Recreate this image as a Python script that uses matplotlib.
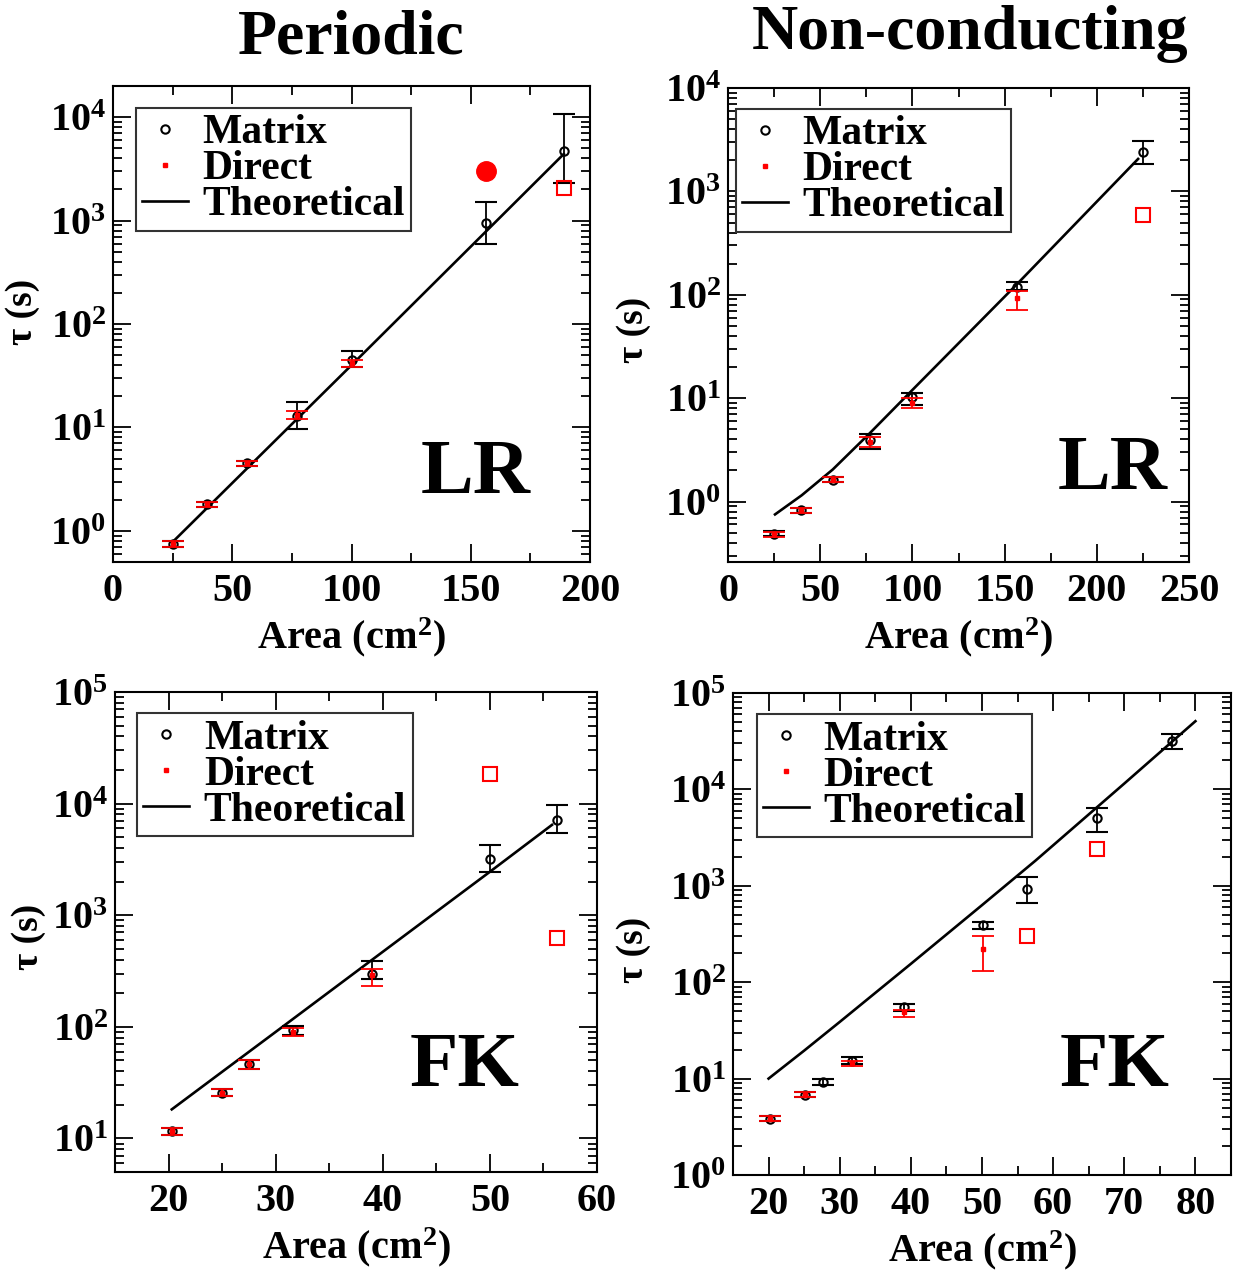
import matplotlib
matplotlib.use("Agg")
import matplotlib.pyplot as plt
from matplotlib.lines import Line2D
from matplotlib.ticker import FuncFormatter, LogLocator, MultipleLocator, NullFormatter
import numpy as np

plt.rcParams['font.family'] = ['Liberation Serif', 'DejaVu Serif']
plt.rcParams['font.weight'] = 'bold'
plt.rcParams['mathtext.fontset'] = 'custom'
plt.rcParams['mathtext.rm'] = 'Liberation Serif:bold'
plt.rcParams['mathtext.bf'] = 'Liberation Serif:bold'
plt.rcParams['mathtext.it'] = 'Liberation Serif:bold:italic'

# ---------------- Panel 1: Periodic, LR ----------------
p1_x = [25, 39.4, 56.2, 77, 100, 156.4, 189]
p1_matrix = [0.75, 1.82, 4.5, 13, 45, 940, 4700]
p1_matrix_lo = [0.70, 1.72, 4.25, 9.7, 38, 600, 2300]
p1_matrix_hi = [0.80, 1.92, 4.75, 17.6, 55, 1500, 10700]
p1_direct_x = [25, 39.4, 56.2, 77, 100]
p1_direct = [0.75, 1.82, 4.5, 13.2, 42]
p1_direct_lo = [0.70, 1.72, 4.25, 12, 38]
p1_direct_hi = [0.80, 1.92, 4.75, 14.4, 45]
p1_circle_x = [156.4]
p1_circle_y = [3000]
p1_square_x = [189]
p1_square_y = [2050]
p1_theory_x = [25, 50, 100, 150, 189]
p1_theory_y = [0.78, 2.9, 40, 560, 4400]

# ---------------- Panel 2: Non-conducting, LR ----------------
p2_x = [25, 39.4, 56.8, 77, 100, 156.6, 225]
p2_matrix = [0.49, 0.82, 1.63, 3.9, 10.2, 118, 2430]
p2_matrix_lo = [0.46, 0.77, 1.53, 3.2, 8.6, 110, 1860]
p2_matrix_hi = [0.52, 0.87, 1.73, 4.5, 11.3, 132, 3100]
p2_direct_x = [25, 39.4, 56.8, 77, 100, 156.6]
p2_direct = [0.48, 0.82, 1.63, 3.8, 9.0, 93]
p2_direct_lo = [0.45, 0.77, 1.53, 3.4, 8.1, 72]
p2_direct_hi = [0.51, 0.87, 1.73, 4.2, 10, 108]
p2_square_x = [225]
p2_square_y = [590]
p2_theory_x = [25.5, 40, 56.8, 77, 100, 156.6, 222.4]
p2_theory_y = [0.75, 1.15, 2.04, 4.6, 12.0, 126, 2060]

# ---------------- Panel 3: Periodic, FK ----------------
p3_x = [20.3, 25, 27.5, 31.6, 39, 50, 56.3]
p3_matrix = [11.6, 25.6, 46, 93, 300, 3170, 7100]
p3_matrix_lo = [10.8, 23.8, 42, 85, 270, 2450, 5500]
p3_matrix_hi = [12.4, 27.5, 50, 101, 390, 4250, 9800]
p3_direct_x = [20.3, 25, 27.5, 31.6, 39]
p3_direct = [11.6, 25.6, 46, 90, 290]
p3_direct_lo = [10.8, 23.8, 42, 83, 230]
p3_direct_hi = [12.4, 27.5, 50, 98, 330]
p3_square_x = [50, 56.3]
p3_square_y = [18600, 630]
p3_theory_x = [20.3, 25, 30, 40, 50, 55.8]
p3_theory_y = [18.2, 39.5, 90, 470, 2450, 6450]

# ---------------- Panel 4: Non-conducting, FK ----------------
p4_x = [20.2, 25.1, 27.6, 31.7, 39.1, 50.1, 56.3, 66.2, 76.7]
p4_matrix = [3.85, 6.8, 9.3, 15.4, 55, 390, 930, 5000, 31500]
p4_matrix_lo = [3.6, 6.4, 8.6, 14.2, 50, 360, 660, 3600, 26000]
p4_matrix_hi = [4.1, 7.2, 10.0, 16.6, 60, 420, 1230, 6400, 38000]
p4_direct_x = [20.2, 25.1, 31.7, 39.1, 50.1]
p4_direct = [3.85, 6.8, 14.5, 49, 220]
p4_direct_lo = [3.6, 6.4, 13.6, 44, 132]
p4_direct_hi = [4.1, 7.2, 15.4, 52, 300]
p4_square_x = [56.3, 66.2]
p4_square_y = [300, 2400]
p4_theory_x = [20, 25, 30, 40, 50, 57.5, 60, 70, 80]
p4_theory_y = [10, 19.5, 38.7, 155, 630, 1820, 2630, 11500, 51000]

titles = ["Periodic", "Non-conducting"]
panel_labels = ["LR", "LR", "FK", "FK"]
legend_labels = ["Matrix", "Direct", "Theoretical"]

W, H = 1256, 1276
fig = plt.figure(figsize=(W / 100, H / 100), dpi=100)


def rect(l, t, r, b):
    return [l / W, 1 - b / H, (r - l) / W, (b - t) / H]


axes_px = [(113, 86, 590, 562), (728, 88, 1189, 562),
           (115, 692, 597, 1172), (733, 693, 1231, 1175)]
xlims = [(0, 200), (0, 250), (15, 60), (15, 85)]
ylims = [(0.5, 2.0e4), (0.26, 1.0e4), (5, 1.0e5), (1, 1.0e5)]
xmaj = [50, 50, 10, 10]
xmin = [25, 25, 5, 5]
leg_anchor = [(0.048, 0.954), (0.017, 0.956), (0.046, 0.956), (0.048, 0.956)]
lab_pos = [(0.76, 0.183), (0.835, 0.194), (0.726, 0.217), (0.767, 0.222)]
ylab_x = [-0.152, -0.168, -0.144, -0.164]
ylab_y = [0.525, 0.49, 0.49, 0.467]

data = [
    (p1_x, p1_matrix, p1_matrix_lo, p1_matrix_hi, p1_direct_x, p1_direct, p1_direct_lo, p1_direct_hi,
     p1_square_x, p1_square_y, p1_theory_x, p1_theory_y),
    (p2_x, p2_matrix, p2_matrix_lo, p2_matrix_hi, p2_direct_x, p2_direct, p2_direct_lo, p2_direct_hi,
     p2_square_x, p2_square_y, p2_theory_x, p2_theory_y),
    (p3_x, p3_matrix, p3_matrix_lo, p3_matrix_hi, p3_direct_x, p3_direct, p3_direct_lo, p3_direct_hi,
     p3_square_x, p3_square_y, p3_theory_x, p3_theory_y),
    (p4_x, p4_matrix, p4_matrix_lo, p4_matrix_hi, p4_direct_x, p4_direct, p4_direct_lo, p4_direct_hi,
     p4_square_x, p4_square_y, p4_theory_x, p4_theory_y),
]

fmt = FuncFormatter(lambda v, p: r'$10^{%d}$' % int(round(np.log10(v))) if v > 0 else '')

for i, (ax_px, d) in enumerate(zip(axes_px, data)):
    (mx, my, mlo, mhi, dx, dy, dlo, dhi, sx, sy, tx, ty) = d
    ax = fig.add_axes(rect(*ax_px))
    ax.set_yscale('log')
    ax.set_xlim(*xlims[i])
    ax.set_ylim(*ylims[i])

    ax.plot(tx, ty, color='black', lw=1.9, zorder=3)

    my_a = np.array(my)
    merr = [my_a - np.array(mlo), np.array(mhi) - my_a]
    ax.errorbar(mx, my, yerr=merr, fmt='o', mfc='none', mec='black', mew=1.5, ms=6,
                ecolor='black', elinewidth=1.3, capsize=8, capthick=1.3, zorder=4)
    dy_a = np.array(dy)
    derr = [dy_a - np.array(dlo), np.array(dhi) - dy_a]
    ax.errorbar(dx, dy, yerr=derr, fmt='s', mfc='red', mec='red', ms=3.5,
                ecolor='red', elinewidth=1.3, capsize=8, capthick=1.3, zorder=5)
    ax.plot(sx, sy, 's', mfc='none', mec='red', mew=1.5, ms=10, zorder=5)
    if i == 0:
        ax.plot(p1_circle_x, p1_circle_y, 'o', color='red', ms=14, zorder=5)

    ax.xaxis.set_major_locator(MultipleLocator(xmaj[i]))
    ax.xaxis.set_minor_locator(MultipleLocator(xmin[i]))
    ax.yaxis.set_major_locator(LogLocator(base=10, numticks=20))
    ax.yaxis.set_minor_locator(LogLocator(base=10, subs=np.arange(2, 10), numticks=20))
    ax.yaxis.set_major_formatter(fmt)
    ax.yaxis.set_minor_formatter(NullFormatter())
    ax.tick_params(which='both', direction='in', top=True, right=True, width=1.3, labelsize=29)
    ax.tick_params(which='major', length=13)
    ax.tick_params(which='minor', length=6.5)
    ax.tick_params(axis='x', pad=8)
    ax.tick_params(axis='y', pad=5)
    for sp in ax.spines.values():
        sp.set_linewidth(1.5)

    ax.set_xlabel(r'Area (cm$^2$)', fontsize=29, fontweight='bold', labelpad=4)
    ax.set_ylabel('τ (s)', fontsize=27, fontweight='bold')
    ax.yaxis.set_label_coords(ylab_x[i], ylab_y[i])

    ax.text(lab_pos[i][0], lab_pos[i][1], panel_labels[i], transform=ax.transAxes,
            fontsize=57, fontweight='bold', ha='center', va='center')

    handles = [Line2D([], [], marker='o', ls='none', mfc='none', mec='black', mew=1.5, ms=6),
               Line2D([], [], marker='s', ls='none', mfc='red', mec='red', ms=3.5),
               Line2D([], [], color='black', lw=1.9)]
    leg = ax.legend(handles, legend_labels, loc='upper left', bbox_to_anchor=leg_anchor[i],
                    borderaxespad=0, fontsize=30, frameon=True, fancybox=False,
                    edgecolor='#333333', framealpha=1, handlelength=1.1, handletextpad=0.35,
                    labelspacing=-0.05, borderpad=0.15)
    leg.get_frame().set_linewidth(1.5)

fig.text(351 / W, 1 - 39 / H, titles[0], fontsize=46, fontweight='bold', ha='center', va='center')
fig.text(970 / W, 1 - 34 / H, titles[1], fontsize=46, fontweight='bold', ha='center', va='center')

fig.savefig('out.png', dpi=100)
